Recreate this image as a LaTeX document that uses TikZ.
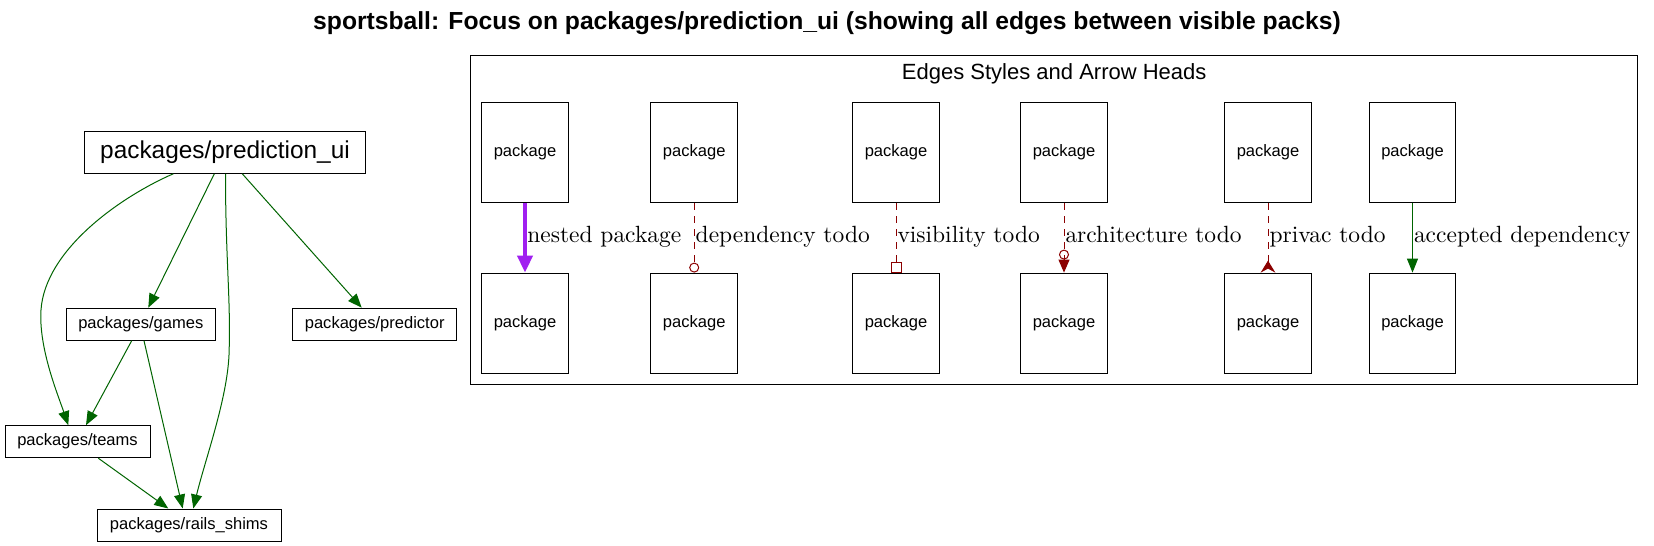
\documentclass[tikz,border=0pt]{standalone}
\usepackage{fontspec}
\setmainfont{Liberation Sans}
\newfontfamily\labfont{lmroman10-regular}[Extension=.otf]
\usetikzlibrary{arrows.meta,calc}
\definecolor{dgreen}{HTML}{006400}
\definecolor{dred}{HTML}{8B0000}
\definecolor{npurple}{HTML}{A020F0}
\tikzset{
  box/.style={draw, line width=0.75pt, inner sep=0pt, align=center},
  bignode/.style={box, minimum width=211pt, minimum height=31.2pt, font=\fontsize{18.3}{20}\selectfont},
  smallnode/.style={box, minimum height=24pt, font=\fontsize{12.4}{14}\selectfont},
  legpkg/.style={box, minimum width=64.9pt, minimum height=75.3pt, font=\fontsize{12.4}{14}\selectfont},
  dep/.style={draw=dgreen, line width=0.75pt, -{Triangle[length=10.5pt,width=8.25pt]}},
  todo/.style={draw=dred, line width=0.75pt, dash pattern=on 5.25pt off 4.5pt},
  nestededge/.style={draw=npurple, line width=3pt, -{Triangle[length=12.75pt,width=11.25pt]}},
  lab/.style={anchor=base west, inner sep=0pt, xshift=0.75pt, font=\labfont\fontsize{17.6}{20}\selectfont},
}
\begin{document}
\begin{tikzpicture}[x=0.75pt,y=-0.75pt]
\fill[white] (0,0) rectangle (1654,546);
\useasboundingbox (0,0) rectangle (1654,546);

% title
\node[anchor=base, inner sep=0pt, font=\bfseries\fontsize{18.5}{20}\selectfont] (title) at (827,30)
  {sportsball: Focus on packages/prediction\_ui (showing all edges between visible packs)};

% main graph
\node[bignode] (pu) at (225,152.5) {packages/prediction\_ui};
\node[smallnode, minimum width=111.75pt] (games) at (140.8,324.2) {packages/games};
\node[smallnode, minimum width=123pt] (predictor) at (374.7,324.2) {packages/predictor};
\node[smallnode, minimum width=108.75pt] (teams) at (77.5,441.7) {packages/teams};
\node[smallnode, minimum width=138pt] (rails) at (189,525) {packages/rails\_shims};

\draw[dep] ($(pu.south)+(-51.7,0)$) .. controls (120,197) and (45,250) .. (41,310)
  .. controls (38.5,348) and (58,395) .. ($(teams.north)+(-9.2,0)$);
\draw[dep] ($(pu.south)+(-10.7,0)$) -- ($(games.north)+(7.5,0)$);
\draw[dep] ($(pu.south)+(0.5,0)$) .. controls (225.5,260) and (231,300) .. (229,355)
  .. controls (227,400) and (205,460) .. ($(rails.north)+(4.3,0)$);
\draw[dep] ($(pu.south)+(17.3,0)$) -- ($(predictor.north)+(-13,0)$);
\draw[dep] ($(games.south)+(-9.1,0)$) -- ($(teams.north)+(8.5,0)$);
\draw[dep] ($(games.south)+(3.2,0)$) -- ($(rails.north)+(-6.3,0)$);
\draw[dep] ($(teams.south)+(20.8,0)$) -- ($(rails.north)+(-20.7,0)$);

% legend cluster
\node[draw, line width=0.75pt, inner sep=0pt, minimum width=875.25pt, minimum height=246.75pt] (cluster) at (1054.2,219.8) {};
\node[anchor=base, inner sep=0pt, font=\fontsize{16.5}{18}\selectfont] (clabel) at (1054.2,79) {Edges Styles and Arrow Heads};

\foreach \i/\x in {1/525,2/694.2,3/896,4/1064,5/1268,6/1412.5}{
  \node[legpkg] (a\i) at (\x,152.5) {package};
  \node[legpkg] (b\i) at (\x,323.3) {package};
}

\draw[nestededge] (a1) -- node[lab, pos=0.57, xshift=-0.5pt] {nested package} (b1);
\draw[todo, -{Circle[open,length=7.5pt]}] (a2) -- node[lab, pos=0.57] {dependency todo} (b2);
\draw[todo, -{Square[open,length=8.25pt]}] (a3) -- node[lab, pos=0.57] {visibility todo} (b3);
\draw[todo, -{Circle[open,length=7.5pt] Triangle[length=9.75pt,width=8.25pt]}] (a4) -- node[lab, pos=0.57] {architecture todo} (b4);
\draw[todo, -{Stealth[reversed,length=9pt,width=11pt,inset=3pt]}] (a5) -- node[lab, pos=0.57] {privac todo} (b5);
\draw[dep] (a6) -- node[lab, pos=0.57] {accepted dependency} (b6);
\end{tikzpicture}
\end{document}
